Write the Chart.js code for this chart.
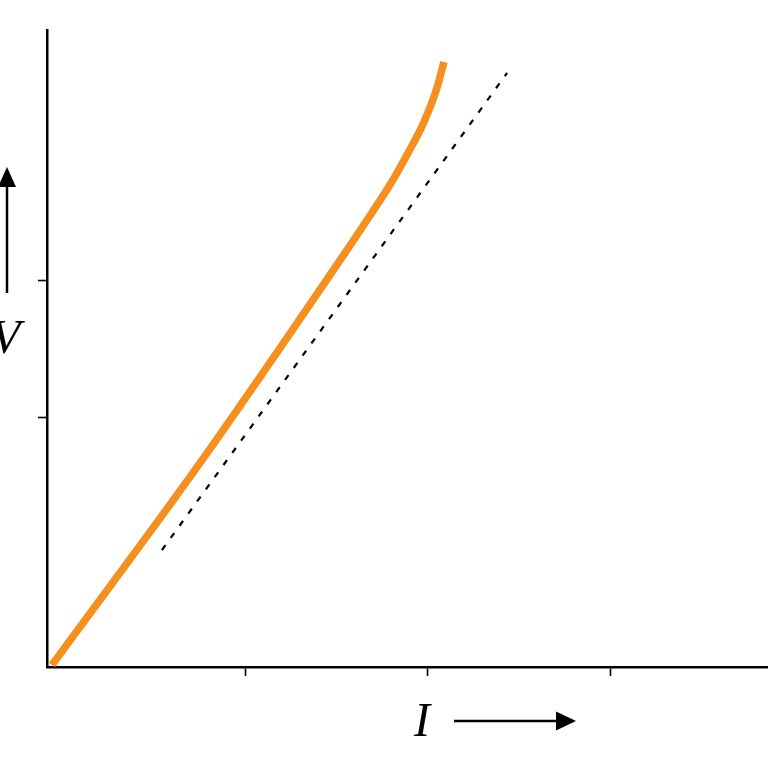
<!DOCTYPE html>
<html>
<head>
<meta charset="utf-8">
<script src="https://cdn.jsdelivr.net/npm/chart.js@4"></script>
<style>
  html, body { margin: 0; padding: 0; background: #fff; }
  #wrap { width: 768px; height: 768px; }
</style>
</head>
<body>
<div id="wrap"><canvas id="ivChart" width="768" height="768"></canvas></div>
<script>
// Measured curve (orange) and linear reference (dashed)
const curveX = [-0.055, 0.765, 1.557, 1.678, 1.798, 1.885, 1.978, 2.049, 2.087];
const curveY = [-0.803, 0.693, 2.226, 2.467, 2.715, 2.920, 3.161, 3.409, 3.599];
const refX = [0.546, 2.432];
const refY = [0.036, 3.518];

// tick positions (no labels)
const xTicks = [1, 2, 3];
const yTicks = [1, 2];

const toPoints = (xs, ys) => xs.map((x, i) => ({ x: x, y: ys[i] }));

// draws the I -> and V ^ annotations
const axisLabels = {
  id: 'axisLabels',
  afterDraw(chart) {
    const c = chart.ctx;
    c.save();
    c.fillStyle = '#000';
    c.strokeStyle = '#000';
    c.font = 'italic 48px "Liberation Serif", "DejaVu Serif", serif';
    c.textBaseline = 'alphabetic';
    c.textAlign = 'left';
    c.fillText('I', 414, 736);
    c.fillText('V', -9, 353);

    // right arrow
    c.lineWidth = 2.5;
    c.beginPath();
    c.moveTo(454, 721);
    c.lineTo(560, 721);
    c.stroke();
    c.beginPath();
    c.moveTo(576, 721);
    c.lineTo(556, 711.5);
    c.lineTo(556, 730.5);
    c.closePath();
    c.fill();

    // up arrow
    c.beginPath();
    c.moveTo(7, 293);
    c.lineTo(7, 182);
    c.stroke();
    c.beginPath();
    c.moveTo(7, 167);
    c.lineTo(-2, 187);
    c.lineTo(16, 187);
    c.closePath();
    c.fill();
    c.restore();
  }
};

const ctx = document.getElementById('ivChart').getContext('2d');
const chart = new Chart(ctx, {
  type: 'line',
  data: {
    datasets: [
      {
        data: toPoints(curveX, curveY),
        borderColor: '#f5901e',
        borderWidth: 7.5,
        borderCapStyle: 'butt',
        pointRadius: 0,
        cubicInterpolationMode: 'monotone',
        fill: false
      },
      {
        data: toPoints(refX, refY),
        borderColor: '#000',
        borderWidth: 2.2,
        borderDash: [6, 9],
        pointRadius: 0,
        fill: false
      }
    ]
  },
  options: {
    responsive: false,
    animation: false,
    layout: { padding: { top: 30, left: 0, right: 0, bottom: 0 } },
    plugins: { legend: { display: false }, tooltip: { enabled: false } },
    scales: {
      x: {
        type: 'linear',
        min: -0.082,
        max: 3.858,
        afterBuildTicks: s => { s.ticks = xTicks.map(v => ({ value: v })); },
        afterFit: s => { s.height = 101; },
        ticks: { display: false },
        grid: { drawOnChartArea: false, drawTicks: true, tickLength: 9, tickWidth: 1.6, tickColor: '#000' },
        border: { display: true, color: '#000', width: 2.5 }
      },
      y: {
        type: 'linear',
        min: -0.8175,
        max: 3.832,
        afterBuildTicks: s => { s.ticks = yTicks.map(v => ({ value: v })); },
        afterFit: s => { s.width = 47; },
        ticks: { display: false },
        grid: { drawOnChartArea: false, drawTicks: true, tickLength: 9, tickWidth: 1.6, tickColor: '#000' },
        border: { display: true, color: '#000', width: 2.5 }
      }
    }
  },
  plugins: [axisLabels]
});
</script>
</body>
</html>
